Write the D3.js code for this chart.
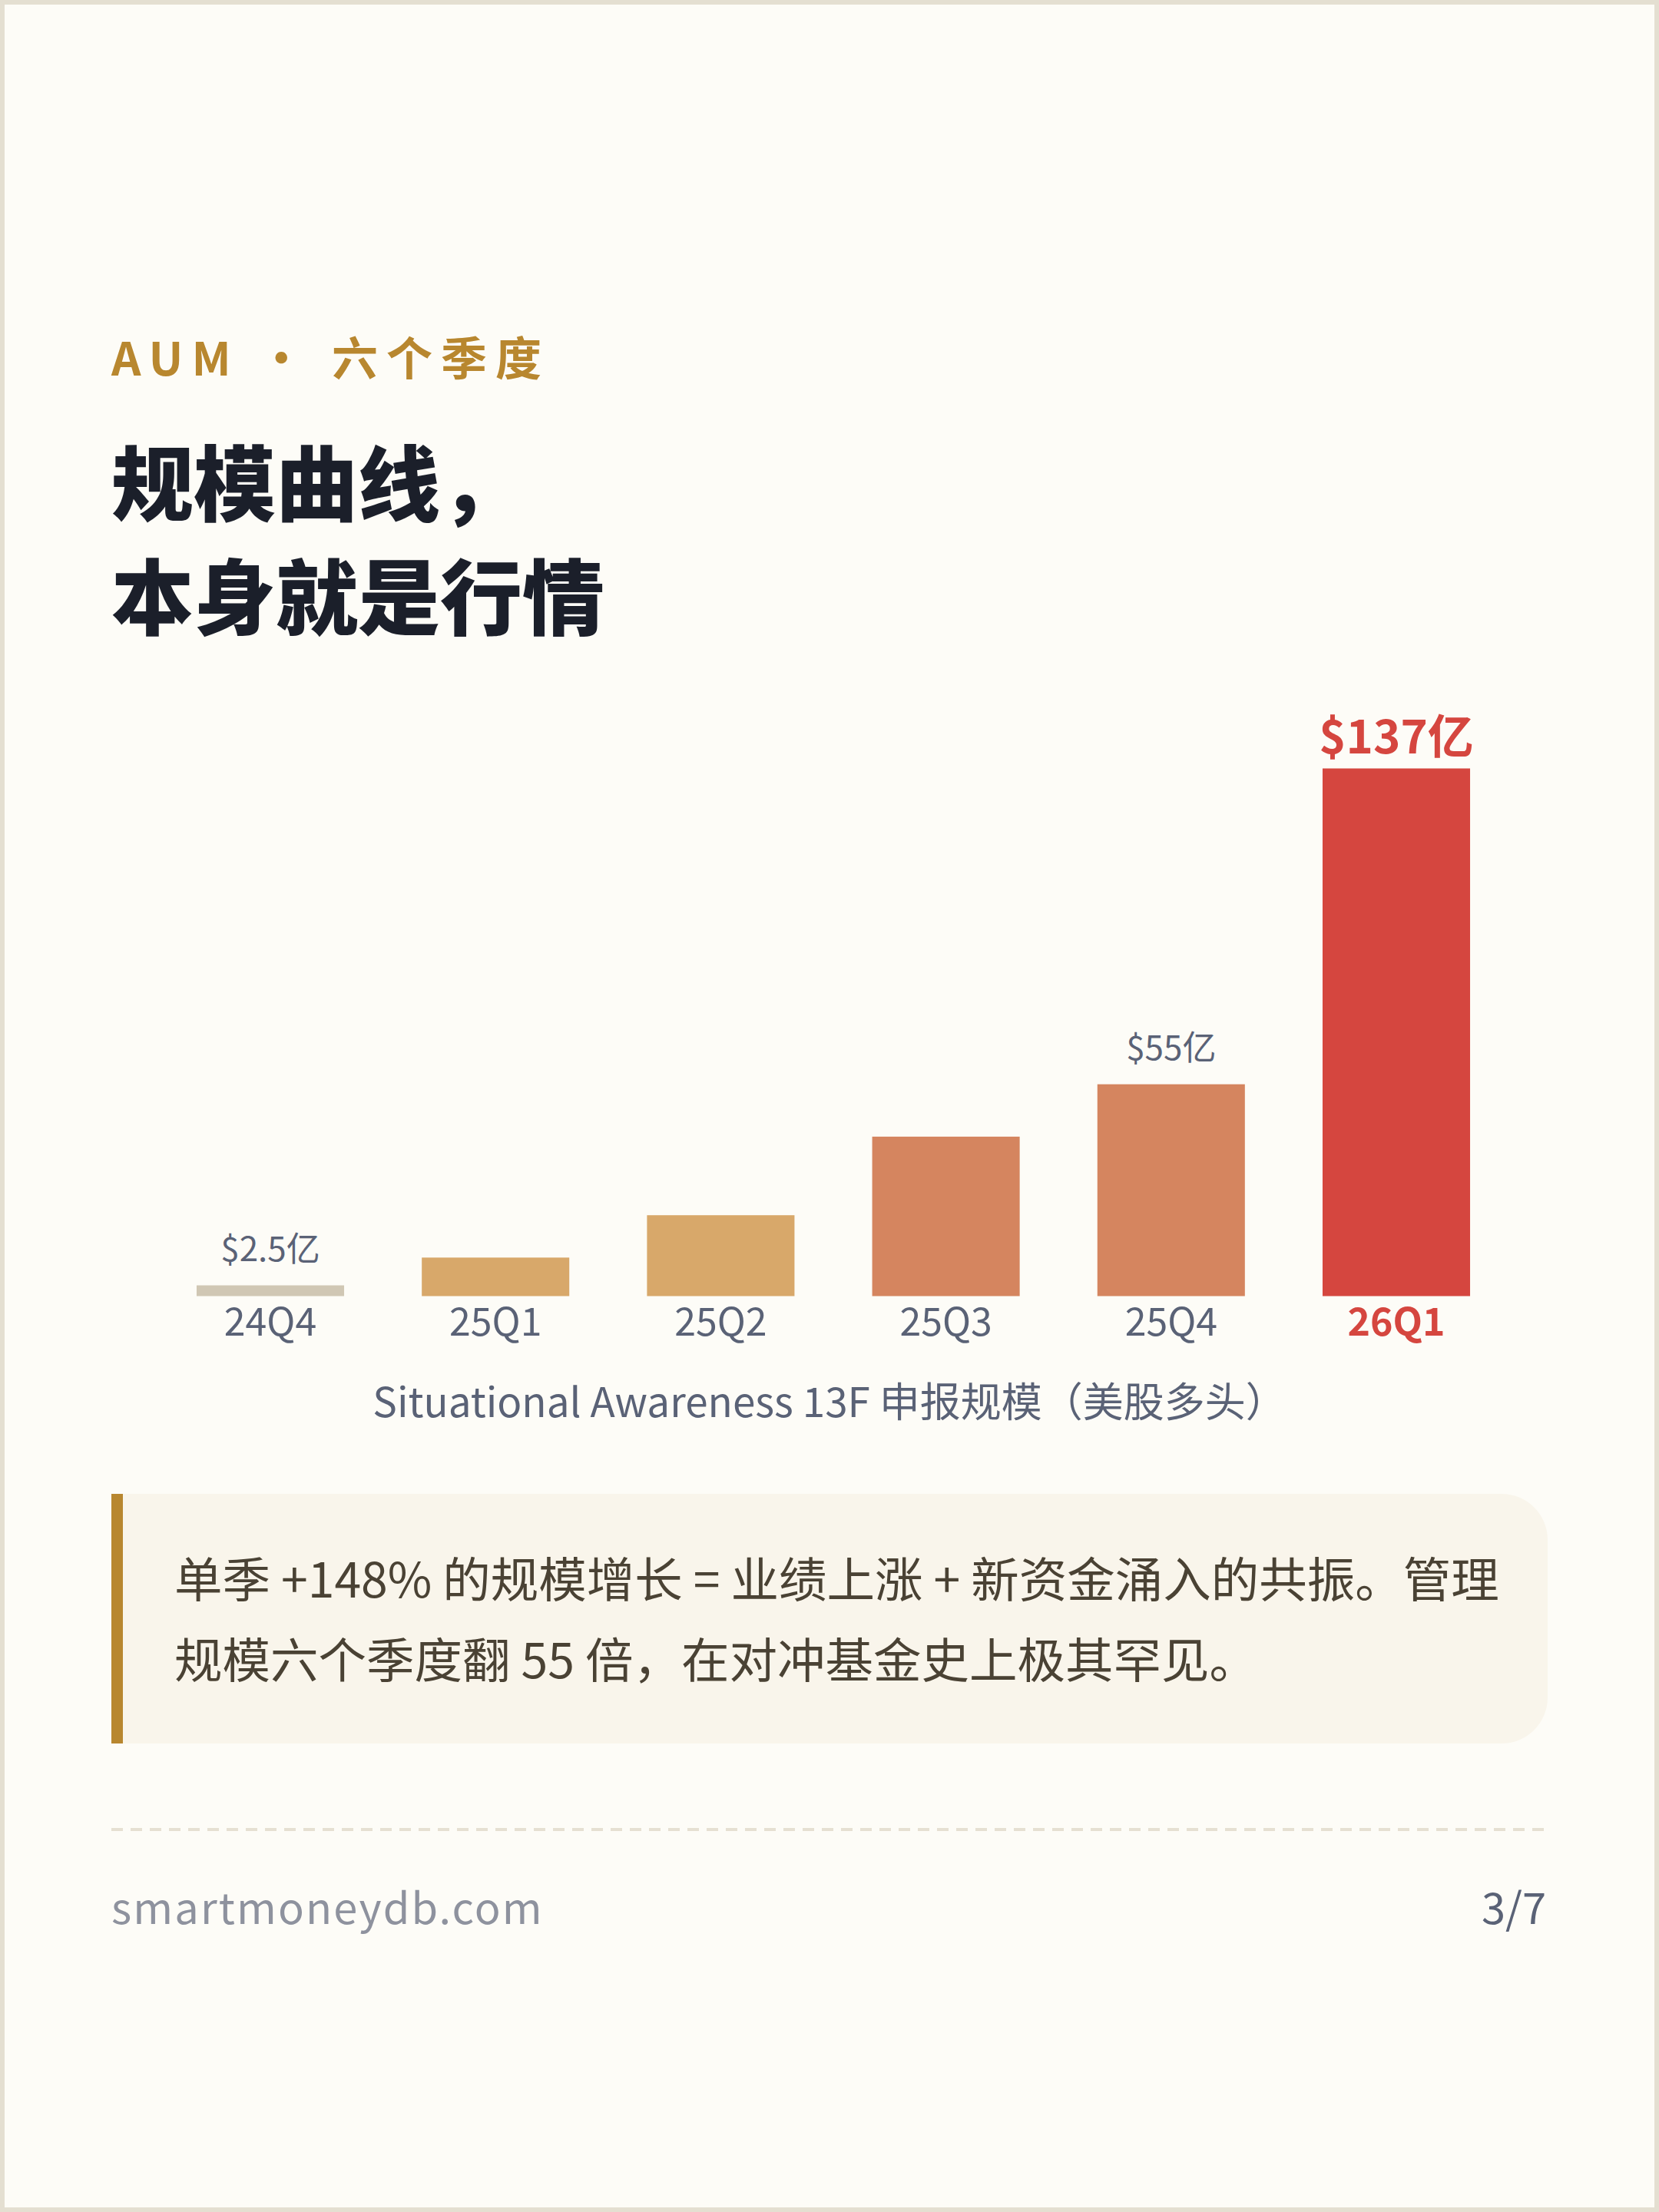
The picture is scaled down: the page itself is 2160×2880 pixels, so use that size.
<!DOCTYPE html>
<html>
<head>
<meta charset="utf-8">
<script src="https://cdn.jsdelivr.net/npm/d3@7"></script>
<style>
  html, body { margin: 0; padding: 0; background: #fdfcf7; }
  svg { display: block; }
  text { font-family: "Noto Sans CJK SC", "Noto Sans", sans-serif; }
</style>
</head>
<body>
<svg id="chart" width="2160" height="2880"></svg>
<script>
// ---------- data ----------
const quarters = ["24Q4", "25Q1", "25Q2", "25Q3", "25Q4", "26Q1"];
const aumValues = [2.5, 10, 21, 41.4, 55, 137];           // 亿美元
const valueLabels = ["$2.5亿", null, null, null, "$55亿", "$137亿"];
const highlightQuarter = "26Q1";

const eyebrowText = "AUM · 六个季度";
const titleLines = ["规模曲线，", "本身就是行情"];
const axisTitle = "Situational Awareness 13F 申报规模（美股多头）";
const noteLines = [
  "单季 +148% 的规模增长 = 业绩上涨 + 新资金涌入的共振。管理",
  "规模六个季度翻 55 倍，在对冲基金史上极其罕见。"
];
const footerSite = "smartmoneydb.com";
const footerPage = "3/7";

// ---------- style ----------
const barColors = ["#d0c7b4", "#d8a86a", "#d8a86a", "#d5855f", "#d5855f", "#d5463f"];
const gray = "#5a6276";
const red = "#d5463f";
const gold = "#b8872f";

const W = 2160, H = 2880;
const svg = d3.select("#chart");

// background + frame
svg.append("rect").attr("x", 0).attr("y", 0).attr("width", W).attr("height", H).attr("fill", "#fdfcf7");
svg.append("rect").attr("x", 3).attr("y", 3).attr("width", W - 6).attr("height", H - 6)
  .attr("fill", "none").attr("stroke", "#e4dfd1").attr("stroke-width", 6);

// eyebrow
svg.append("text").attr("x", 145).attr("y", 489)
  .attr("font-size", 60).attr("font-weight", 700).attr("fill", gold)
  .style("letter-spacing", "11px")
  .text(eyebrowText);

// title
svg.append("g").selectAll("text").data(titleLines).join("text")
  .attr("x", 145).attr("y", (d, i) => 670 + i * 148)
  .attr("font-size", 107).attr("font-weight", 900).attr("fill", "#1b1f2a")
  .text(d => d);

// ---------- chart ----------
const baseY = 1687.5;
const x = d3.scaleBand().domain(quarters).range([205.4, 1964.6])
  .paddingInner(0.345).paddingOuter(0.1725);
const y = d3.scaleLinear().domain([0, d3.max(aumValues)]).range([baseY, 1000.5]);
const minBarH = 14;

const rows = quarters.map((q, i) => ({ q, v: aumValues[i], label: valueLabels[i], color: barColors[i] }));

const barTop = d => Math.min(y(d.v), baseY - minBarH);

svg.append("g").selectAll("rect").data(rows).join("rect")
  .attr("x", d => x(d.q))
  .attr("width", x.bandwidth())
  .attr("y", d => barTop(d))
  .attr("height", d => baseY - barTop(d))
  .attr("fill", d => d.color);

svg.append("g").selectAll("text").data(rows.filter(d => d.label)).join("text")
  .attr("x", d => x(d.q) + x.bandwidth() / 2)
  .attr("y", d => d.q === highlightQuarter ? barTop(d) - 20 : barTop(d) - 32)
  .attr("text-anchor", "middle")
  .attr("font-size", d => d.q === highlightQuarter ? 60 : 44)
  .attr("font-weight", d => d.q === highlightQuarter ? 700 : 400)
  .attr("fill", d => d.q === highlightQuarter ? red : gray)
  .text(d => d.label);

const xAxis = svg.append("g").attr("transform", `translate(0,${baseY})`)
  .call(d3.axisBottom(x).tickSize(0).tickPadding(16));
xAxis.select(".domain").remove();
xAxis.selectAll(".tick text")
  .attr("font-family", "Noto Sans CJK SC")
  .attr("font-size", 50)
  .attr("fill", d => d === highlightQuarter ? red : gray)
  .attr("font-weight", d => d === highlightQuarter ? 700 : 400);

svg.append("text").attr("x", 1080).attr("y", 1845)
  .attr("text-anchor", "middle").attr("font-size", 53).attr("fill", gray)
  .text(axisTitle);

// ---------- callout ----------
const boxX = 145, boxY = 1945, boxW = 1870, boxH = 325, r = 60;
svg.append("path")
  .attr("d", `M${boxX},${boxY} H${boxX + boxW - r} A${r},${r} 0 0 1 ${boxX + boxW},${boxY + r}
              V${boxY + boxH - r} A${r},${r} 0 0 1 ${boxX + boxW - r},${boxY + boxH} H${boxX} Z`)
  .attr("fill", "#f9f5eb");
svg.append("rect").attr("x", boxX).attr("y", boxY).attr("width", 15).attr("height", boxH).attr("fill", gold);

svg.append("g").selectAll("text").data(noteLines).join("text")
  .attr("x", 227).attr("y", (d, i) => 2080 + i * 105)
  .attr("font-size", 62.5).attr("fill", "#4a4234")
  .text(d => d);

// ---------- footer ----------
svg.append("line").attr("x1", 145).attr("x2", 2015).attr("y1", 2382).attr("y2", 2382)
  .attr("stroke", "#e6e0d2").attr("stroke-width", 4).attr("stroke-dasharray", "15 10");

svg.append("text").attr("x", 145).attr("y", 2505)
  .attr("font-size", 56).attr("fill", "#8e929e").style("letter-spacing", "2.1px")
  .text(footerSite);
svg.append("text").attr("x", 2013).attr("y", 2505)
  .attr("text-anchor", "end").attr("font-size", 56).attr("fill", gray)
  .text(footerPage);
</script>
</body>
</html>
